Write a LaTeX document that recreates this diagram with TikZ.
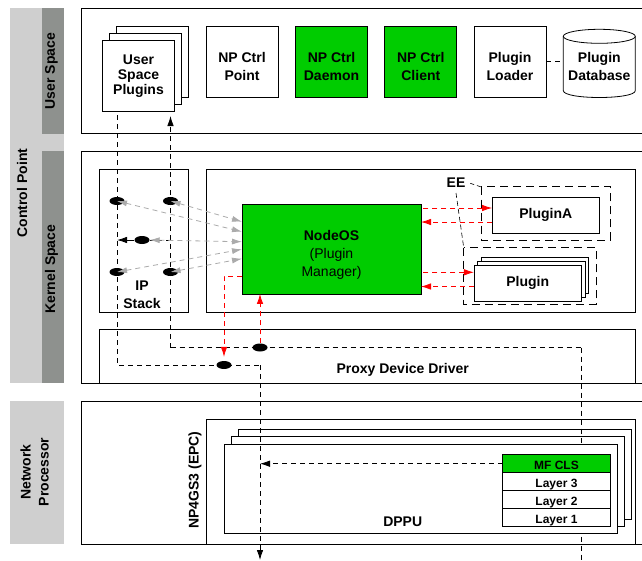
\documentclass[tikz,border=0pt]{standalone}
\usepackage{fontspec}
\setmainfont{Liberation Sans}
\usetikzlibrary{shapes.geometric, arrows.meta}
\definecolor{bandlight}{HTML}{CFCFCF}
\definecolor{banddark}{HTML}{8E918E}
\definecolor{npgreen}{HTML}{00CC00}
\definecolor{linkgray}{HTML}{ABABAB}
\tikzset{
    box/.style={draw, fill=white, line width=0.8pt, inner sep=0pt, outer sep=0pt, align=center, font=\fontsize{14}{18}\selectfont\bfseries},
    greenbox/.style={box, fill=npgreen},
    hold/.style={box, draw=none, fill=none},
    side/.style={hold, rotate=90},
    layerbox/.style={box, minimum width=107.6pt, minimum height=18pt, text height=11pt, text depth=0pt, font=\fontsize{12}{14}\selectfont\bfseries},
    dot/.style={ellipse, fill=black, minimum width=15pt, minimum height=8pt, inner sep=0pt},
    link/.style={line width=0.8pt, dash pattern=on 5pt off 4pt},
    blacktip/.style={-{Latex[length=10pt, width=6.5pt]}},
    redlink/.style={link, red, <->, >={Latex[length=10pt, width=6.5pt]}},
    graylink/.style={link, linkgray, <->, >={Latex[length=10pt, width=6pt]}},
    eebox/.style={line width=0.9pt, dash pattern=on 8pt off 5pt}
}
\begin{document}
\begin{tikzpicture}[x=1pt, y=-1pt]
    \useasboundingbox (0,0) rectangle (642,560);
    \clip (0,0) rectangle (642,560);

    \fill[bandlight] (10,8) rectangle (64,383);
    \fill[banddark] (42,8) rectangle (64,134);
    \fill[banddark] (42,151) rectangle (64,383);
    \fill[bandlight] (10,401) rectangle (64,544);
    \node[side] (controlpoint) at (22,193) {Control Point};
    \node[side] (userspace) at (51.5,71) {User Space};
    \node[side] (kernelspace) at (51.5,269) {Kernel Space};
    \node[side] (netproc) at (34.5,472) {Network\\Processor};

    \node[box, minimum width=580pt, minimum height=125pt] (userbox) at (371,70.5) {};
    \node[box, minimum width=580pt, minimum height=232pt] (kernelbox) at (371,267) {};
    \node[box, minimum width=580pt, minimum height=143pt] (npbox) at (371,472.5) {};

    \node[box, minimum width=72pt, minimum height=71.5pt] (plugC) at (152.5,61.8) {};
    \node[box, minimum width=72pt, minimum height=71.5pt] (plugB) at (145.5,68.8) {};
    \node[box, minimum width=72pt, minimum height=71.5pt, font=\fontsize{14}{15}\selectfont\bfseries] (plugA) at (138.5,75.8) {User\\Space\\Plugins};
    \node[box, minimum width=72pt, minimum height=71.5pt] (ctrlpoint) at (242,61.8) {};
    \node[hold] (ctrlpointtext) at (242,66.8) {NP Ctrl\\Point};
    \node[greenbox, minimum width=72pt, minimum height=71.5pt] (daemon) at (331.5,61.8) {};
    \node[hold] (daemontext) at (331.5,66.8) {NP Ctrl\\Daemon};
    \node[greenbox, minimum width=72pt, minimum height=71.5pt] (client) at (420.8,61.8) {};
    \node[hold] (clienttext) at (420.8,66.8) {NP Ctrl\\Client};
    \node[box, minimum width=72pt, minimum height=71.5pt] (loader) at (510,61.8) {};
    \node[hold] (loadertext) at (510,66.8) {Plugin\\Loader};

    \node[hold, minimum width=72pt, minimum height=68.5pt] (database) at (599.3,63.3) {};
    \draw[line width=0.8pt, fill=white] (563.3,36.3) -- (563.3,90.6) .. controls (563.3,99.8) and (635.3,99.8) .. (635.3,90.6) -- (635.3,36.3);
    \draw[line width=0.8pt, fill=white] (599.3,36.3) ellipse [x radius=36, y radius=7];
    \node[hold] (databasetext) at (599.3,66.8) {Plugin\\Database};
    \draw[link] (loader.east |- 0,61.5) -- (database.west |- 0,61.5);

    \node[box, minimum width=89.5pt, minimum height=143pt] (ipbox) at (143.7,240.5) {};
    \node[hold] (iptext) at (142,295) {IP\\Stack};
    \node[box, minimum width=429.3pt, minimum height=143pt] (eearea) at (420.6,240.5) {};
    \node[greenbox, minimum width=179pt, minimum height=89.5pt] (nodeos) at (331.5,249.2) {};
    \node[hold, font=\fontsize{14}{18}\selectfont] (nodeostext) at (331.5,254.5) {\textbf{NodeOS}\\(Plugin\\Manager)};
    \node[box, minimum width=536.3pt, minimum height=53.5pt] (proxy) at (367.2,356.2) {};
    \node[hold] (proxytext) at (402.7,369.5) {Proxy Device Driver};

    \draw[eebox] (481.3,186.7) rectangle (610.3,240);
    \draw[eebox] (463.7,247.5) rectangle (596,304.3);
    \node[hold] (eetext) at (456,182.7) {EE};
    \coordinate (eeA) at (470.3,183.3);
    \coordinate (eeB) at (481.3,187);
    \coordinate (eeC) at (456,193);
    \coordinate (eeD) at (463.7,247.5);
    \draw[line width=0.6pt, dash pattern=on 4pt off 3pt] (eeA) -- (eeB);
    \draw[line width=0.6pt, dash pattern=on 5pt off 3pt] (eeC) -- (eeD);
    \node[box, minimum width=107.5pt, minimum height=36pt] (pluginA) at (545.8,215.3) {PluginA};
    \node[box, minimum width=107.5pt, minimum height=36pt] (pluginZ) at (535,275.7) {};
    \node[box, minimum width=107.5pt, minimum height=36pt] (pluginY) at (531.4,279.5) {};
    \node[box, minimum width=107.5pt, minimum height=36pt] (plugin) at (527.7,283.3) {Plugin};

    \node[box, minimum width=429.3pt, minimum height=125pt] (npgs) at (420.6,481.5) {};
    \node[side] (npgstext) at (195,480) {NP4GS3 (EPC)};
    \node[box, minimum width=393pt, minimum height=90pt] (dppuC) at (435,474.5) {};
    \node[box, minimum width=393pt, minimum height=90pt] (dppuB) at (428,481.5) {};

    \coordinate (rightA) at (170.5,116);
    \coordinate (rightB) at (170.5,347.5);
    \coordinate (rightC) at (581.5,347.5);
    \coordinate (rightD) at (581.5,565);
    \draw[link] (rightC) -- (rightD);

    \node[box, minimum width=393.4pt, minimum height=89.5pt] (dppuA) at (420.7,488.7) {};
    \node[hold] (dpputext) at (402.7,521.7) {DPPU};
    \node[layerbox, fill=npgreen] (mfcls) at (556.5,463.7) {MF CLS};
    \node[layerbox] (layerC) at (556.5,481.7) {Layer 3};
    \node[layerbox] (layerB) at (556.5,499.7) {Layer 2};
    \node[layerbox] (layerD) at (556.5,517.6) {Layer 1};

    \coordinate (leftA) at (117,115);
    \coordinate (leftB) at (117,365);
    \coordinate (leftC) at (260,365);
    \coordinate (leftD) at (260,560);
    \coordinate (branchA) at (170.5,240);
    \coordinate (branchB) at (117,240);
    \coordinate (dppuIn) at (260,465);
    \draw[link] (leftA) -- (leftB) -- (leftC);
    \draw[link, blacktip] (leftC) -- (leftD);
    \draw[link, blacktip] (rightB) -- (rightA);
    \draw[link] (rightB) -- (rightC);
    \draw[link, blacktip] (mfcls.west) -- (dppuIn |- mfcls.west);

    \node[dot] (dotA) at (117,201) {};
    \node[dot] (dotB) at (170.5,201) {};
    \node[dot] (dotC) at (142,240) {};
    \node[dot] (dotD) at (117,272) {};
    \node[dot] (dotE) at (170.5,272) {};
    \node[dot] (dotF) at (224,365) {};
    \node[dot] (dotG) at (260,347.5) {};
    \draw[link] (branchA) -- (dotC);
    \draw[blacktip, line width=0.8pt] (dotC) -- (branchB);

    \draw[redlink, <-] (pluginA.west |- 0,208) -- (nodeos.east |- 0,208);
    \draw[redlink, ->] (pluginA.west |- 0,222) -- (nodeos.east |- 0,222);
    \draw[redlink, <-] (plugin.west |- 0,272.3) -- (nodeos.east |- 0,272.3);
    \draw[redlink, ->] (plugin.west |- 0,286.5) -- (nodeos.east |- 0,286.5);
    \coordinate (redcorner) at (224,276);
    \draw[redlink, ->, shorten >=4pt] (nodeos.west |- redcorner) -- (redcorner) -- (dotF.north);
    \draw[redlink, ->] (dotG.north) -- (nodeos.south -| dotG);

    \coordinate (grayA) at (242,221.7);
    \coordinate (grayB) at (242,231.7);
    \coordinate (grayC) at (242,241.7);
    \coordinate (grayD) at (242,249.3);
    \coordinate (grayE) at (242,258.7);
    \draw[graylink] (dotB.center) -- (grayA);
    \draw[graylink] (dotA.center) -- (grayB);
    \draw[graylink] (dotC.east) -- (grayC);
    \draw[graylink] (dotD.center) -- (grayD);
    \draw[graylink] (dotE.center) -- (grayE);
\end{tikzpicture}
\end{document}
